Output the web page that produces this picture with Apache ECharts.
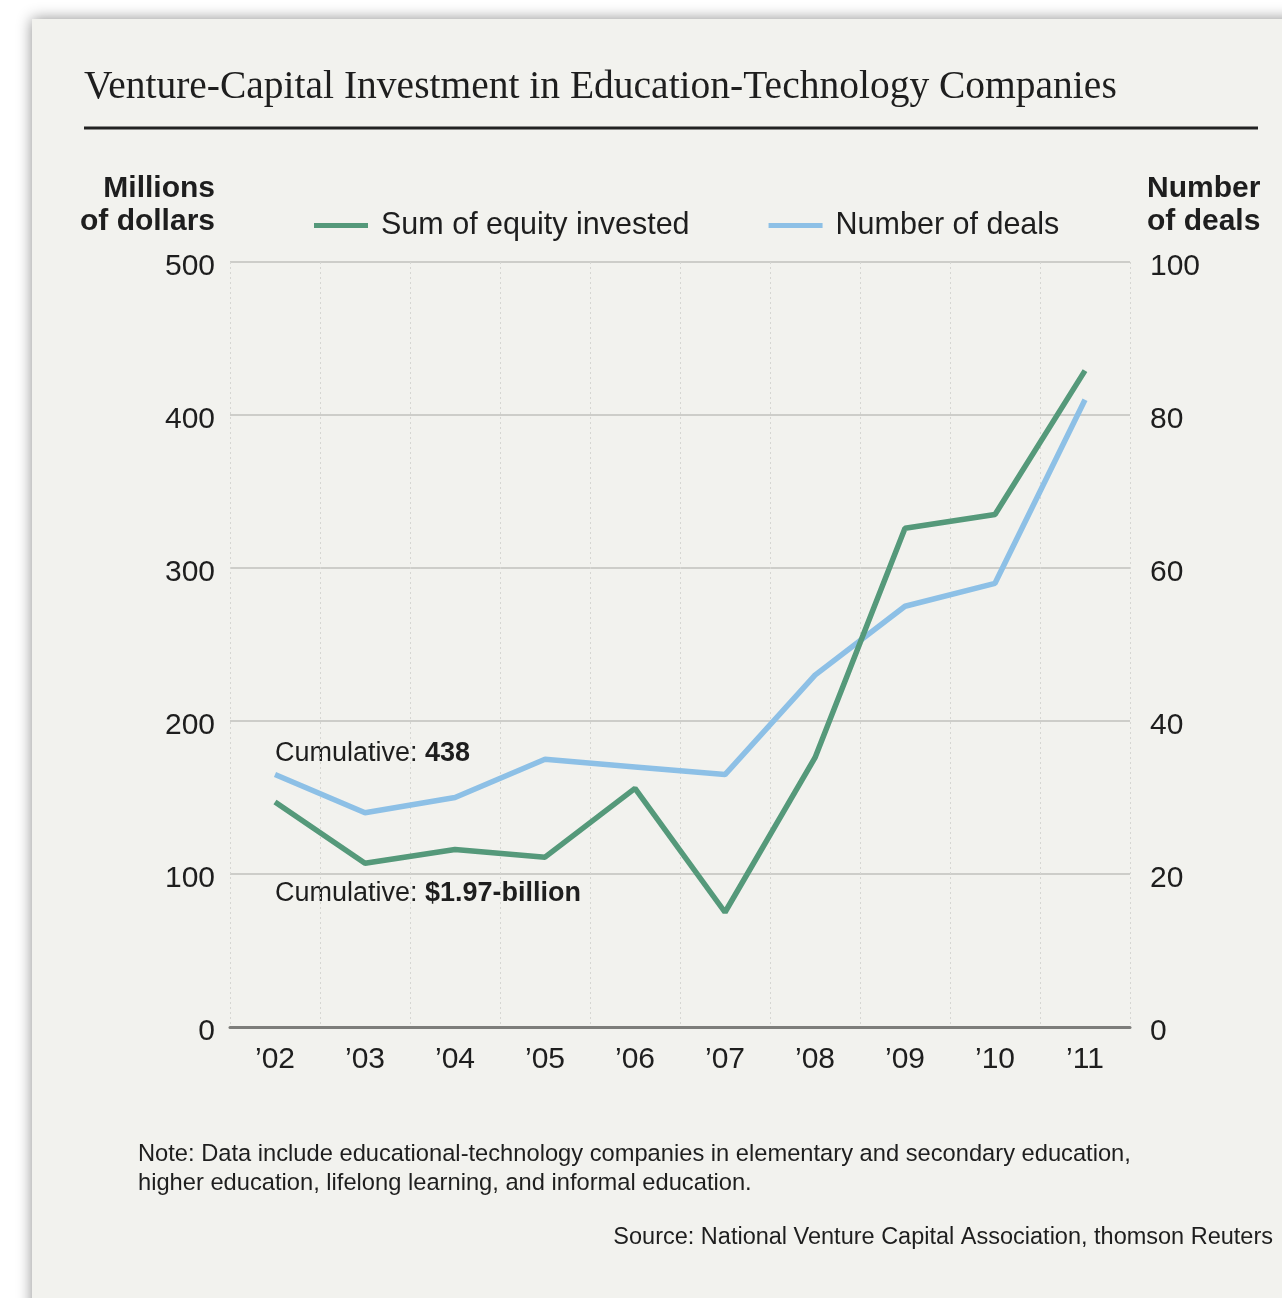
<!DOCTYPE html>
<html>
<head>
<meta charset="utf-8">
<script src="https://cdn.jsdelivr.net/npm/echarts@6/dist/echarts.min.js"></script>
<style>
html,body{margin:0;padding:0;background:#fff;}
#c{width:1282px;height:1298px;}
</style>
</head>
<body>
<div id="c"></div>
<script>
const years = ["’02","’03","’04","’05","’06","’07","’08","’09","’10","’11"];
const equity = [147,107,116,111,156,75,176,326,335,429];
const deals = [33,28,30,35,34,33,46,55,58,82];
const leftAxis = {min:0, max:500, interval:100};
const rightAxis = {min:0, max:100, interval:20};

const GREEN = '#55997a';
const BLUE = '#8dc0e6';
const TXT = '#1e1e1e';
const SANS = '"Liberation Sans", Arial, sans-serif';

const chart = echarts.init(document.getElementById('c'));
chart.setOption({
  backgroundColor:'#ffffff',
  animation:false,
  textStyle:{fontFamily:SANS},
  graphic:[
    {type:'rect', z:-10, shape:{x:32,y:19,width:1300,height:1320},
     style:{fill:'#f2f2ee', shadowBlur:14, shadowColor:'rgba(0,0,0,0.45)'}},
    {type:'text', x:84, y:68, style:{text:'Venture-Capital Investment in Education-Technology Companies',
      font:'39.5px "Liberation Serif", "Times New Roman", serif', fill:'#1e1e1e', verticalAlign:'top'}},
    {type:'line', shape:{x1:84,y1:128,x2:1258,y2:128}, style:{stroke:'#222', lineWidth:3}},
    {type:'text', x:215, y:172, style:{text:'Millions\nof dollars', align:'right', verticalAlign:'top',
      font:'bold 30px '+SANS, fill:TXT, lineHeight:33}},
    {type:'text', x:1147, y:172, style:{text:'Number\nof deals', align:'left', verticalAlign:'top',
      font:'bold 30px '+SANS, fill:TXT, lineHeight:33}},
    {type:'text', left:275, top:740, style:{text:'{a|Cumulative: }{b|438}',
      rich:{a:{font:'27px '+SANS, fill:TXT}, b:{font:'bold 27px '+SANS, fill:TXT}}}},
    {type:'text', left:275, top:880, style:{text:'{a|Cumulative: }{b|$1.97-billion}',
      rich:{a:{font:'27px '+SANS, fill:TXT}, b:{font:'bold 27px '+SANS, fill:TXT}}}},
    {type:'text', left:138, top:1140, style:{text:'Note: Data include educational-technology companies in elementary and secondary education,\nhigher education, lifelong learning, and informal education.',
      font:'23.7px '+SANS, fill:TXT, lineHeight:29}},
    {type:'text', x:1273, y:1238, style:{text:'Source: National Venture Capital Association, thomson Reuters',
      align:'right', verticalAlign:'middle', font:'23.5px '+SANS, fill:TXT}}
  ],
  legend:{
    left:309, top:205, itemWidth:54, itemHeight:5, itemGap:79, icon:'rect',
    textStyle:{fontSize:30.5, color:TXT, padding:[0,0,0,8], fontFamily:SANS},
    data:['Sum of equity invested','Number of deals']
  },
  grid:{left:230, right:152, top:262, bottom:271, containLabel:false},
  xAxis:{
    type:'category', data:years, boundaryGap:true,
    axisLine:{lineStyle:{color:'#7d7d7a', width:3}},
    axisTick:{show:false},
    axisLabel:{fontSize:30, color:TXT, margin:18, interval:0},
    splitLine:{show:true, interval:0, lineStyle:{color:'#d6d6d2', width:1, type:[2,3]}}
  },
  yAxis:[
    {type:'value', min:leftAxis.min, max:leftAxis.max, interval:leftAxis.interval,
     axisLine:{show:false}, axisTick:{show:false},
     axisLabel:{fontSize:30, color:TXT, margin:15, verticalAlign:'top', lineHeight:10},
     splitLine:{lineStyle:{color:'#cdcdc9', width:2}}},
    {type:'value', position:'right', min:rightAxis.min, max:rightAxis.max, interval:rightAxis.interval,
     axisLine:{show:false}, axisTick:{show:false},
     axisLabel:{fontSize:30, color:TXT, margin:20, verticalAlign:'top', lineHeight:10},
     splitLine:{show:false}}
  ],
  series:[
    {name:'Sum of equity invested', type:'line', data:equity, yAxisIndex:0,
     symbol:'none', lineStyle:{color:GREEN, width:5.5}, itemStyle:{color:GREEN}, z:3},
    {name:'Number of deals', type:'line', data:deals, yAxisIndex:1,
     symbol:'none', lineStyle:{color:BLUE, width:5.5}, itemStyle:{color:BLUE}, z:2}
  ]
});
</script>
</body>
</html>
